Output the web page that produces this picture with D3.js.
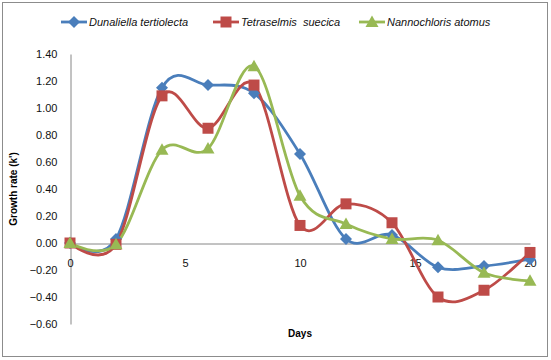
<!DOCTYPE html>
<html><head><meta charset="utf-8">
<script src="https://cdn.jsdelivr.net/npm/d3@7/dist/d3.min.js"></script>
<style>body{margin:0;background:#fff;}svg{display:block;font-family:"Liberation Sans",Arial,sans-serif;}</style>
</head><body><svg id="c" width="551" height="360"></svg>
<script>
const days = [0,2,4,6,8,10,12,14,16,18,20];
const dunaliella = [0.00,0.03,1.15,1.17,1.11,0.66,0.03,0.06,-0.18,-0.17,-0.12];
const tetraselmis = [0.00,-0.01,1.09,0.85,1.17,0.13,0.29,0.15,-0.40,-0.35,-0.07];
const nannochloris = [0.00,-0.01,0.69,0.70,1.31,0.35,0.14,0.03,0.02,-0.22,-0.28];
const seriesNames = ["Dunaliella tertiolecta","Tetraselmis  suecica","Nannochloris atomus"];
const colors = ["#4A7EBB","#BE4B48","#98B954"];
const markers = ["diamond","square","triangle"];
const yTicks = [1.4,1.2,1.0,0.8,0.6,0.4,0.2,0,-0.2,-0.4,-0.6];
const xTicks = [0,5,10,15,20];

const svg = d3.select("#c");
svg.append("rect").attr("x",2.5).attr("y",2.5).attr("width",545).attr("height",354)
  .attr("fill","#fff").attr("stroke","#8c8c8c").attr("stroke-width",1);

const x = d3.scaleLinear().domain([0,20]).range([70,530]);
const y = d3.scaleLinear().domain([-0.6,1.4]).range([324,54]);

const yAxis = d3.axisLeft(y).tickValues(yTicks).tickSize(0).tickPadding(13).tickFormat(d3.format(".2f"));
const gy = svg.append("g").attr("transform","translate(70.5,0)").call(yAxis);
gy.select(".domain").attr("stroke","#868686");
gy.selectAll("text").attr("font-size",11).attr("fill","#111");

const xAxis = d3.axisBottom(x).tickValues(xTicks).tickSize(0).tickPadding(16).tickFormat(d3.format("d"));
const gx = svg.append("g").attr("transform",`translate(0,${Math.round(y(0))+0.5})`).call(xAxis);
gx.select(".domain").attr("stroke","#868686");
gx.selectAll("text").attr("font-size",11).attr("fill","#111");

svg.append("text").attr("transform",`translate(17,${(y(1.4)+y(-0.6))/2}) rotate(-90)`)
  .attr("text-anchor","middle").attr("font-size",10).attr("font-weight","bold").text("Growth rate (k')");
svg.append("text").attr("x",(x(0)+x(20))/2).attr("y",337).attr("text-anchor","middle")
  .attr("font-size",10).attr("font-weight","bold").text("Days");

const allSeries = [dunaliella,tetraselmis,nannochloris];
const line = d3.line().x(d=>x(d[0])).y(d=>y(d[1])).curve(d3.curveCardinal.tension(0));
const symPath = {
  diamond: "M0,-6L6,0L0,6L-6,0Z",
  square: "M-5.5,-5.5H5.5V5.5H-5.5Z",
  triangle: "M0,-6.5L6.5,5L-6.5,5Z"
};

allSeries.forEach((vals,i)=>{
  const pts = days.map((d,j)=>[d,vals[j]]);
  svg.append("path").attr("d",line(pts)).attr("fill","none").attr("stroke",colors[i]).attr("stroke-width",2.8);
});
allSeries.forEach((vals,i)=>{
  svg.append("g").selectAll("path").data(days.map((d,j)=>[d,vals[j]])).join("path")
    .attr("transform",d=>`translate(${x(d[0])},${y(d[1])})`)
    .attr("d",symPath[markers[i]])
    .attr("fill",colors[i]);
});

const legX = [61,213,359];
const legY = 22;
seriesNames.forEach((n,i)=>{
  const g = svg.append("g");
  g.append("line").attr("x1",legX[i]).attr("x2",legX[i]+26).attr("y1",legY).attr("y2",legY)
    .attr("stroke",colors[i]).attr("stroke-width",2.8);
  g.append("path").attr("transform",`translate(${legX[i]+13},${legY})`)
    .attr("d",symPath[markers[i]]).attr("fill",colors[i]);
  g.append("text").attr("x",legX[i]+28).attr("y",legY+4).attr("font-size",11).attr("font-style","italic")
    .attr("fill","#111").style("white-space","pre").text(n);
});
</script></body></html>
